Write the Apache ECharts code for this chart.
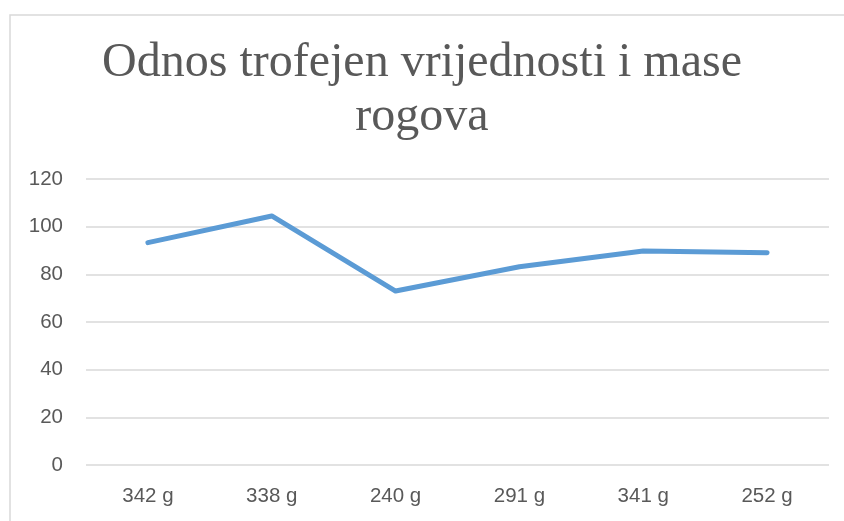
<!DOCTYPE html>
<html><head><meta charset="utf-8">
<script src="https://cdn.jsdelivr.net/npm/echarts@6/dist/echarts.min.js"></script>
<style>html,body{margin:0;padding:0;background:#fff}#c{width:844px;height:521px}</style>
</head><body><div id="c"></div>
<script>
const titleText = 'Odnos trofejen vrijednosti i mase\nrogova';
const categories = ['342 g', '338 g', '240 g', '291 g', '341 g', '252 g'];
const values = [93.3, 104.5, 73.0, 83.2, 89.8, 89.1];
const yMin = 0, yMax = 120, yStep = 20;

const chart = echarts.init(document.getElementById('c'));
chart.setOption({
  animation: false,
  backgroundColor: '#fff',
  graphic: [{
    type: 'rect', shape: {x: 10, y: 15, width: 900, height: 600},
    style: {fill: 'none', stroke: '#D9D9D9', lineWidth: 1.5}, silent: true
  }],
  title: {
    text: titleText, left: 'center', top: 31,
    textStyle: {fontFamily: '"Liberation Serif","Times New Roman",serif', fontSize: 48, fontWeight: 'normal', color: '#595959', lineHeight: 54}
  },
  grid: {left: 86, right: 15, top: 179, bottom: 56, containLabel: false},
  xAxis: {
    type: 'category', data: categories, boundaryGap: true,
    axisLine: {show: false}, axisTick: {show: false},
    axisLabel: {color: '#595959', fontSize: 20.5, fontFamily: '"Liberation Sans",Arial,sans-serif', margin: 21}
  },
  yAxis: {
    type: 'value', min: yMin, max: yMax, interval: yStep,
    axisLine: {show: false}, axisTick: {show: false},
    splitLine: {lineStyle: {color: '#D9D9D9', width: 1.5}},
    axisLabel: {color: '#595959', fontSize: 20.5, fontFamily: '"Liberation Sans",Arial,sans-serif', margin: 23}
  },
  series: [{
    type: 'line', data: values, showSymbol: false, symbol: 'none',
    lineStyle: {color: '#5B9BD5', width: 5, cap: 'round', join: 'round'}
  }]
});
</script></body></html>
